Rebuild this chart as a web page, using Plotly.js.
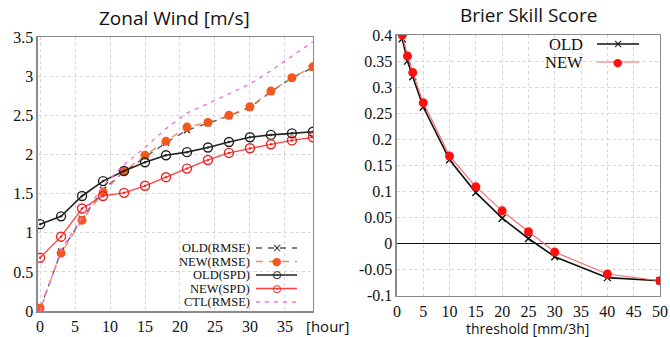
<!DOCTYPE html>
<html>
<head>
<meta charset="utf-8">
<script src="https://cdn.plot.ly/plotly-3.0.1.min.js"></script>
<style>html,body{margin:0;padding:0;background:#fff;} #chart{width:670px;height:337px;}</style>
</head>
<body>
<div id="chart"></div>
<script>
// ---- Zonal Wind data ----
const hours = [0, 3, 6, 9, 12, 15, 18, 21, 24, 27, 30, 33, 36, 39];
const oldRmse = [0.03, 0.76, 1.18, 1.55, 1.78, 1.97, 2.15, 2.31, 2.40, 2.49, 2.60, 2.80, 2.98, 3.11];
const newRmse = [0.04, 0.74, 1.16, 1.52, 1.78, 1.99, 2.17, 2.35, 2.41, 2.50, 2.61, 2.81, 2.98, 3.12];
const oldSpd  = [1.11, 1.21, 1.47, 1.66, 1.79, 1.90, 1.99, 2.03, 2.09, 2.16, 2.22, 2.25, 2.27, 2.29];
const newSpd  = [0.68, 0.95, 1.31, 1.47, 1.51, 1.60, 1.71, 1.82, 1.93, 2.02, 2.08, 2.13, 2.18, 2.22];
const ctlRmse = [0.00, 0.78, 1.20, 1.60, 1.87, 2.09, 2.33, 2.53, 2.65, 2.77, 2.90, 3.07, 3.26, 3.44];
const hourTicks = [0, 5, 10, 15, 20, 25, 30, 35];
const windTicks = [0, 0.5, 1, 1.5, 2, 2.5, 3, 3.5];
const windTickText = ["0", "0.5", "1", "1.5", "2", "2.5", "3", "3.5"];
const windNames = ["OLD(RMSE)", "NEW(RMSE)", "OLD(SPD)", "NEW(SPD)", "CTL(RMSE)"];

// ---- Brier Skill Score data ----
const thresholds = [1, 2, 3, 5, 10, 15, 20, 25, 30, 40, 50];
const bssOld = [0.393, 0.350, 0.320, 0.262, 0.161, 0.098, 0.049, 0.010, -0.025, -0.065, -0.071];
const bssNew = [0.400, 0.360, 0.328, 0.270, 0.168, 0.109, 0.063, 0.023, -0.016, -0.058, -0.071];
const thrTicks = [0, 5, 10, 15, 20, 25, 30, 35, 40, 45, 50];
const bssTicks = [-0.1, -0.05, 0, 0.05, 0.1, 0.15, 0.2, 0.25, 0.3, 0.35, 0.4];
const bssTickText = ["-0.1", "-0.05", "0", "0.05", "0.1", "0.15", "0.2", "0.25", "0.3", "0.35", "0.4"];
const bssNames = ["OLD", "NEW"];

const serif = "Liberation Serif";
const sans = "Open Sans";

// styles
const S = {
  oldRmse: {line: {color: "#555", width: 1.3, dash: "6px,6px"}, marker: {symbol: "x-thin", size: 6, line: {color: "#333", width: 1.4}}, glyph: "×", gcolor: "#333"},
  newRmse: {line: {color: "#f58a5a", width: 1.3, dash: "7px,6px"}, marker: {symbol: "circle", size: 9, color: "#f4581c"}, glyph: "●", gcolor: "#f4581c"},
  oldSpd: {line: {color: "#222", width: 1.6}, marker: {symbol: "circle-open-dot", size: 9, color: "#222", line: {width: 1.4}}, glyph: "⊙", gcolor: "#222"},
  newSpd: {line: {color: "#ff4040", width: 1.3}, marker: {symbol: "circle-open-dot", size: 9, color: "#f02020", line: {width: 1.4}}, glyph: "⊙", gcolor: "#f02020"},
  ctl: {line: {color: "#f070f0", width: 1.4, dash: "4px,5px"}, glyph: "", gcolor: "#f070f0"},
  bOld: {line: {color: "#111", width: 1.6}, marker: {symbol: "x-thin", size: 7, line: {color: "#111", width: 1.4}}, glyph: "×", gcolor: "#111"},
  bNew: {line: {color: "#ff6a6a", width: 1.2}, marker: {symbol: "circle", size: 9, color: "#ff1010"}, glyph: "●", gcolor: "#ff1010"}
};

const windSeries = [oldRmse, newRmse, oldSpd, newSpd, ctlRmse];
const windStyles = [S.oldRmse, S.newRmse, S.oldSpd, S.newSpd, S.ctl];
const traces = [];
windSeries.forEach((ys, i) => {
  const st = windStyles[i];
  const t = {x: hours, y: ys, name: windNames[i], mode: st.marker ? "lines+markers" : "lines",
             xaxis: "x", yaxis: "y", line: st.line, showlegend: false};
  if (st.marker) t.marker = st.marker;
  traces.push(t);
});
[bssOld, bssNew].forEach((ys, i) => {
  const st = [S.bOld, S.bNew][i];
  traces.push({x: thresholds, y: ys, name: bssNames[i], mode: "lines+markers", xaxis: "x2", yaxis: "y2",
               line: st.line, marker: st.marker, showlegend: false});
});

// custom legends (gnuplot style: text right-aligned, sample on the right)
const W = 670, H = 337;
const annotations = [];
const shapes = [];
function legendEntry(name, st, textRight, yPx, x0, x1, fsize) {
  annotations.push({text: name, xref: "paper", yref: "paper", x: textRight / W, y: 1 - yPx / H,
    xanchor: "right", yanchor: "middle", showarrow: false, font: {family: serif, size: fsize, color: "#111"}});
  shapes.push({type: "line", xref: "paper", yref: "paper", x0: x0 / W, x1: x1 / W, y0: 1 - yPx / H, y1: 1 - yPx / H,
    line: {color: st.line.color, width: st.line.width, dash: st.line.dash || "solid"}});
  if (st.glyph) {
    annotations.push({text: st.glyph, xref: "paper", yref: "paper", x: ((x0 + x1) / 2) / W, y: 1 - yPx / H,
      xanchor: "center", yanchor: "middle", showarrow: false,
      font: {family: "DejaVu Sans", size: st.glyph === "●" ? 11 : 12, color: st.gcolor}});
  }
}
const lyPos = [248, 261.5, 275, 288.5, 302];
windNames.forEach((n, i) => legendEntry(n, windStyles[i], 252, lyPos[i], 256, 297, 12.5));
const byPos = [44, 62];
bssNames.forEach((n, i) => legendEntry(n, [S.bOld, S.bNew][i], 585, byPos[i], 597, 639, 16.5));

annotations.push(
  {text: "Zonal Wind [m/s]", xref: "paper", yref: "paper", x: 175 / W, y: 1 - 18 / H, xanchor: "center", yanchor: "middle",
   showarrow: false, font: {family: sans, size: 19, color: "#111"}},
  {text: "Brier Skill Score", xref: "paper", yref: "paper", x: 528 / W, y: 1 - 15 / H, xanchor: "center", yanchor: "middle",
   showarrow: false, font: {family: sans, size: 19, color: "#111"}},
  {text: "[hour]", xref: "paper", yref: "paper", x: 304 / W, y: 1 - 326 / H, xanchor: "left", yanchor: "middle",
   showarrow: false, font: {family: sans, size: 15, color: "#111"}},
  {text: "threshold [mm/3h]", xref: "paper", yref: "paper", x: 527 / W, y: 1 - 328 / H, xanchor: "center", yanchor: "middle",
   showarrow: false, font: {family: sans, size: 14, color: "#111"}}
);

function ax(extra) {
  return Object.assign({
    showline: true, mirror: true, linecolor: "#8a8a8a", linewidth: 1.5,
    showgrid: true, gridcolor: "#d6d6d6", griddash: "dot", gridwidth: 1,
    ticks: "", tickfont: {family: serif, size: 16, color: "#111"},
    zeroline: false, fixedrange: true
  }, extra);
}

const layout = {
  width: W, height: H,
  margin: {l: 0, r: 0, t: 0, b: 0},
  font: {family: serif, color: "#111"},
  paper_bgcolor: "#fff", plot_bgcolor: "#fff",
  showlegend: false,
  xaxis: ax({domain: [0.0567, 0.467], range: [-0.3, 39], tickvals: hourTicks, anchor: "y"}),
  yaxis: ax({domain: [0.077, 0.890], range: [0, 3.5], tickvals: windTicks, ticktext: windTickText, anchor: "x"}),
  xaxis2: ax({domain: [0.5925, 0.985], range: [0, 50], tickvals: thrTicks, anchor: "y2"}),
  yaxis2: ax({domain: [0.122, 0.896], range: [-0.1, 0.4], tickvals: bssTicks, ticktext: bssTickText, anchor: "x2",
    zeroline: true, zerolinecolor: "#111", zerolinewidth: 1}),
  annotations: annotations,
  shapes: shapes
};

Plotly.newPlot("chart", traces, layout, {displayModeBar: false, staticPlot: true});
</script>
</body>
</html>
